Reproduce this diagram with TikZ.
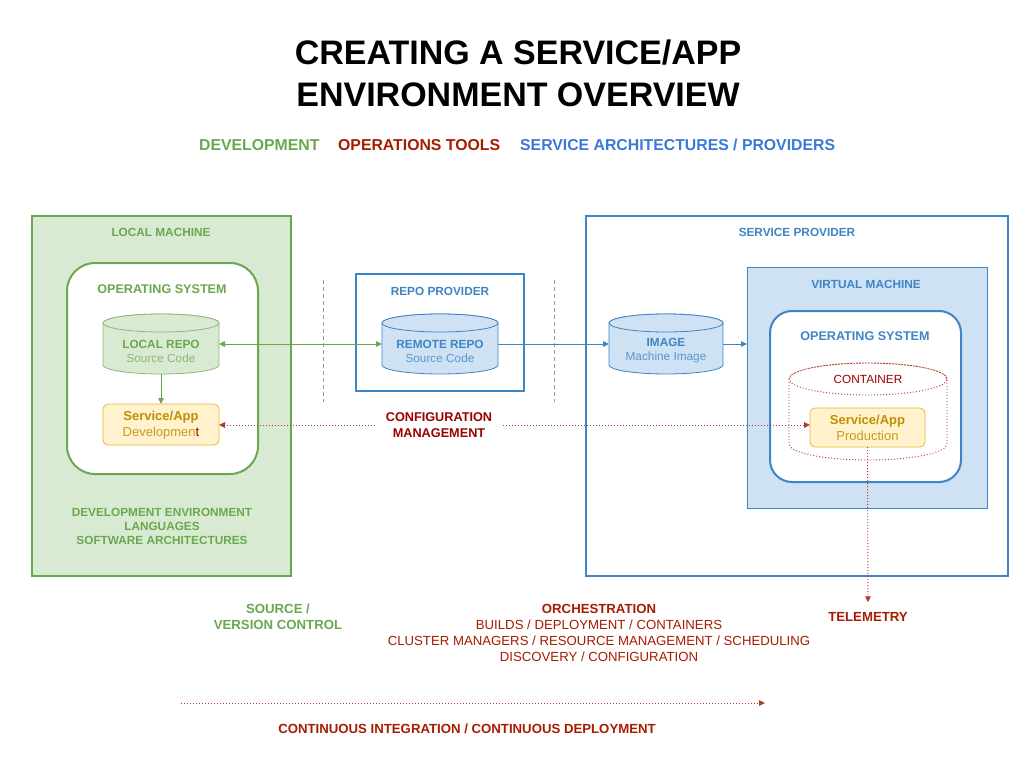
\documentclass[tikz,border=0pt]{standalone}
\usepackage{fontspec}
\setmainfont{Liberation Sans}
\usetikzlibrary{arrows.meta,calc}

\definecolor{devgreen}{HTML}{6AA84F}
\definecolor{devsoft}{HTML}{8DB878}
\definecolor{devfill}{HTML}{D9EAD3}
\definecolor{opsred}{HTML}{A61C00}
\definecolor{cfgred}{HTML}{990000}
\definecolor{dotred}{HTML}{B03A2E}
\definecolor{svcblue}{HTML}{3D85C6}
\definecolor{svcsoft}{HTML}{5A97D0}
\definecolor{legendblue}{HTML}{3C78D8}
\definecolor{vmfill}{HTML}{CFE2F3}
\definecolor{appfill}{HTML}{FFF2CC}
\definecolor{appborder}{HTML}{E8B931}
\definecolor{apptext}{HTML}{BF9000}
\definecolor{appsoft}{HTML}{C99A1E}

% cylinder outline around a named slot node:
% #1 node, #2 x radius, #3 half body height, #4 y radius, #5 style
\newcommand\drawcyl[5]{%
  \path[#5] ($(#1.center)+(-#2,#3)$) -- ($(#1.center)+(-#2,-#3)$)
    arc[start angle=180,end angle=360,x radius=#2,y radius=#4]
    -- ($(#1.center)+(#2,#3)$)
    arc[start angle=0,end angle=180,x radius=#2,y radius=#4] -- cycle;
  \path[#5] ($(#1.center)+(0,#3)$) ellipse[x radius=#2,y radius=#4];
}

\tikzset{
  plain/.style={inner sep=0pt, outer sep=0pt, rectangle},
  machinebox/.style={plain, draw=devgreen, fill=devfill, line width=2pt},
  providerbox/.style={plain, draw=svcblue, fill=white, line width=2pt},
  vmbox/.style={plain, draw=svcblue, fill=vmfill, line width=1pt},
  osgreen/.style={plain, rounded corners=28pt, draw=devgreen, fill=white, line width=2pt},
  osblue/.style={plain, rounded corners=22pt, draw=svcblue, fill=white, line width=2pt},
  cylslot/.style={plain},
  appbox/.style={plain, rounded corners=5pt, draw=appborder, fill=appfill, line width=0.8pt},
  greencyl/.style={draw=devsoft, fill=devfill, line width=0.8pt},
  bluecyl/.style={draw=svcblue, fill=vmfill, line width=0.8pt},
  containercyl/.style={draw=dotred, line width=0.9pt, dash pattern=on 1pt off 2pt},
  hdr/.style={font=\fontsize{11.8}{14}\selectfont\bfseries},
  oshdr/.style={font=\fontsize{12.6}{15}\selectfont\bfseries},
  legend/.style={anchor=west, inner sep=0pt, font=\fontsize{15.8}{18}\selectfont\bfseries},
  cyltext/.style={align=center, font=\fontsize{11.8}{14}\selectfont},
  apptxt/.style={align=center, font=\fontsize{13}{16}\selectfont},
  foot/.style={align=center, font=\fontsize{13.2}{16}\selectfont},
  flow/.style={->, line width=0.8pt},
  opsflow/.style={->, dotred, line width=0.9pt, dash pattern=on 1pt off 2pt},
  divider/.style={draw=black!40, line width=0.6pt, dash pattern=on 4pt off 3pt},
}

\begin{document}
\begin{tikzpicture}[x=1pt, y=1pt, >={Triangle[length=6pt,width=5.5pt]}]
\useasboundingbox (0,0) rectangle (1036,-773);
\fill[white] (0,0) rectangle (1036,-773);

% title and legend
\node[align=center, font=\fontsize{34}{42}\selectfont\bfseries] (title) at (518,-73)
  {CREATING A SERVICE/APP\\ENVIRONMENT OVERVIEW};
\node[legend, text=devgreen] (lgdev) at (199,-145) {DEVELOPMENT};
\node[legend, text=opsred] (lgops) at (338,-145) {OPERATIONS TOOLS};
\node[legend, text=legendblue] (lgsvc) at (520,-145) {SERVICE ARCHITECTURES / PROVIDERS};

% local machine
\node[machinebox, minimum width=259, minimum height=360] (local) at (161.5,-396) {};
\node[hdr, text=devgreen] (localhdr) at (161,-232) {LOCAL MACHINE};
\node[osgreen, minimum width=191, minimum height=211] (oslocal) at (162.5,-368.5) {};
\node[oshdr, text=devgreen] (oslocalhdr) at (162,-289) {OPERATING SYSTEM};
\node[cylslot, minimum width=116, minimum height=60] (lrepo) at (161,-344) {};
\drawcyl{lrepo}{58}{21}{9}{greencyl}
\node[cyltext] (lrepotxt) at (161,-351.5)
  {\textcolor{devgreen}{\bfseries LOCAL REPO}\\\textcolor{devsoft}{Source Code}};
\node[appbox, minimum width=116, minimum height=41] (dev) at (161,-424.5) {};
\node[apptxt] (devtxt) at (161,-425)
  {\textcolor{apptext}{\bfseries Service/App}\\\textcolor{appsoft}{Developmen}\textcolor{cfgred}{t}};
\node[hdr, align=center, text=devgreen] (devenv) at (162,-526)
  {DEVELOPMENT ENVIRONMENT\\LANGUAGES\\SOFTWARE ARCHITECTURES};

% dividers around the repo provider
\draw[divider] (323,-280) -- (323,-402);
\draw[divider] (554,-280) -- (554,-402);

% repo provider
\node[providerbox, minimum width=168, minimum height=117] (repoprov) at (440,-332.5) {};
\node[hdr, text=svcblue] (repoprovhdr) at (440,-291) {REPO PROVIDER};
\node[cylslot, minimum width=116, minimum height=60] (rrepo) at (440,-344) {};
\drawcyl{rrepo}{58}{21}{9}{bluecyl}
\node[cyltext] (rrepotxt) at (440,-351.5)
  {\textcolor{svcblue}{\bfseries REMOTE REPO}\\\textcolor{svcsoft}{Source Code}};

% service provider
\node[providerbox, minimum width=422, minimum height=360] (svcprov) at (797,-396) {};
\node[hdr, text=svcblue] (svcprovhdr) at (797,-232) {SERVICE PROVIDER};
\node[cylslot, minimum width=114, minimum height=60] (image) at (666,-344) {};
\drawcyl{image}{57}{21}{9}{bluecyl}
\node[cyltext] (imagetxt) at (666,-350.5)
  {\textcolor{svcblue}{\bfseries IMAGE}\\\textcolor{svcsoft}{Machine Image}};
\node[vmbox, minimum width=240, minimum height=241] (vm) at (867,-387.5) {};
\node[hdr, text=svcblue] (vmhdr) at (866,-284) {VIRTUAL MACHINE};
\node[osblue, minimum width=191, minimum height=171] (osvm) at (865.5,-396.5) {};
\node[oshdr, text=svcblue] (osvmhdr) at (865,-336) {OPERATING SYSTEM};
\node[cylslot, minimum width=158, minimum height=97] (container) at (868,-411.5) {};
\drawcyl{container}{79}{32.5}{16}{containercyl}
\node[font=\fontsize{11.8}{14}\selectfont, text=cfgred] (containerhdr) at (868,-379) {CONTAINER};
\node[appbox, minimum width=115, minimum height=39] (prod) at (867.5,-427.5) {};
\node[apptxt] (prodtxt) at (867.5,-428)
  {\textcolor{apptext}{\bfseries Service/App}\\\textcolor{appsoft}{Production}};

% source flow
\draw[flow, devgreen, <->] (lrepo.east) -- (rrepo.west);
\draw[flow, devgreen] (lrepo.south) -- (dev.north);
\draw[flow, svcblue] (rrepo.east) -- (image.west);
\draw[flow, svcblue] (image.east) -- (image.east -| vm.west);

% configuration management
\node[align=center, inner xsep=11pt, inner ysep=0pt, text=cfgred,
  font=\fontsize{12.7}{16}\selectfont\bfseries] (cfgm) at (439,-425)
  {CONFIGURATION\\MANAGEMENT};
\draw[opsflow] (cfgm.west) -- (cfgm.west -| dev.east);
\draw[opsflow] (cfgm.east) -- (cfgm.east -| prod.west);

% telemetry
\node[foot, text=opsred, font=\fontsize{13.2}{16}\selectfont\bfseries, inner sep=0pt] (tele) at (868,-617) {TELEMETRY};
\draw[opsflow, shorten >=10pt] (prod.south) -- (tele.north);

% bottom labels
\node[foot, text=devgreen, font=\fontsize{13.2}{16}\selectfont\bfseries] (srcctl) at (278,-617)
  {SOURCE /\\VERSION CONTROL};
\node[foot, text=opsred] (orch) at (599,-633)
  {\textbf{ORCHESTRATION}\\BUILDS / DEPLOYMENT / CONTAINERS\\CLUSTER MANAGERS / RESOURCE MANAGEMENT / SCHEDULING\\DISCOVERY / CONFIGURATION};

% continuous integration / deployment
\coordinate (cistart) at (181,-703);
\coordinate (ciend) at (765,-703);
\draw[opsflow] (cistart) -- (ciend);
\node[foot, text=opsred, font=\fontsize{13.2}{16}\selectfont\bfseries] (cicd) at (467,-729)
  {CONTINUOUS INTEGRATION / CONTINUOUS DEPLOYMENT};
\end{tikzpicture}
\end{document}
